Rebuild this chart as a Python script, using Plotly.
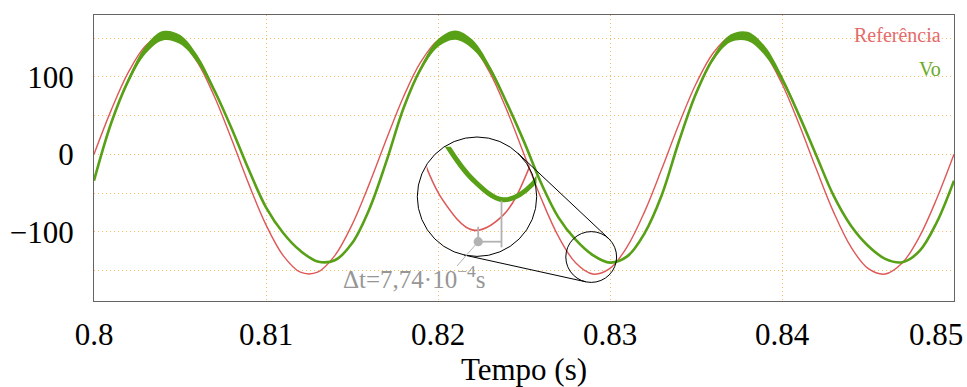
import math
import plotly.graph_objects as go

# ---------------- data ----------------
time_s = [0.800, 0.801, 0.802, 0.803, 0.804, 0.805, 0.806, 0.807, 0.808, 0.809,
          0.810, 0.811, 0.812, 0.813, 0.814, 0.815, 0.816, 0.817, 0.818, 0.819,
          0.820, 0.821, 0.822, 0.823, 0.824, 0.825, 0.826, 0.827, 0.828, 0.829,
          0.830, 0.831, 0.832, 0.833, 0.834, 0.835, 0.836, 0.837, 0.838, 0.839,
          0.840, 0.841, 0.842, 0.843, 0.844, 0.845, 0.846, 0.847, 0.848, 0.849,
          0.850]

referencia = [0.0, 57.1, 106.1, 140.2, 154.7, 147.4, 119.4, 74.7, 19.4, -38.5,
              -91.1, -130.9, -152.3, -152.3, -130.9, -91.1, -38.5, 19.4, 74.7, 119.4,
              147.4, 154.7, 140.2, 106.1, 57.1, 0.0, -57.1, -106.1, -140.2, -154.7,
              -147.4, -119.4, -74.7, -19.4, 38.5, 91.1, 130.9, 152.3, 152.3, 130.9,
              91.1, 38.5, -19.4, -74.7, -119.4, -147.4, -154.7, -140.2, -106.1, -57.1,
              0.0]

vo = [-34.0, 40.4, 95.5, 134.9, 153.2, 148.4, 123.5, 82.4, 33.4, -20.0,
      -68.5, -101.6, -124.7, -138.4, -136.9, -115.0, -71.2, -9.1, 59.9, 110.6,
      143.6, 154.0, 142.2, 111.2, 66.2, 16.4, -37.4, -81.4, -110.3, -130.2,
      -139.9, -131.9, -102.4, -53.2, 16.3, 78.5, 123.8, 149.7, 152.3, 133.8,
      97.5, 50.0, -1.8, -53.4, -91.9, -118.1, -135.0, -139.4, -124.8, -87.8,
      -34.0]

# switching ripple half-width on Vo (thick band at the crests)
vo_ripple = [0, 1, 3, 5, 6, 6, 5, 3, 1, 0,
             0, 0, 0, 0, 0, 0, 0, 0, 1, 3,
             5, 6, 6, 4, 2, 0, 0, 0, 0, 0,
             0, 0, 0, 0, 0, 1, 3, 5, 6, 6,
             4, 2, 0, 0, 0, 0, 0, 0, 0, 0,
             0]

x_tickvals = [0.80, 0.81, 0.82, 0.83, 0.84]
x_ticktext = ["0.8", "0.81", "0.82", "0.83", "0.84"]
y_tickvals = [-150, -100, -50, 0, 50, 100, 150]
y_ticktext = [" ", "\u2212100", " ", "0", " ", "100", " "]

DELTA_T = 7.74e-4        # annotated delay
T_REF_MIN = 0.82917      # time of the reference valley inside the zoom
DT_LABEL = "\u0394t=7,74\u00b710<sup>\u22124</sup>s"

# ---------------- geometry ----------------
W, H = 967, 387
ML, MR, MT, MB = 94, 13, 15, 86
PX0, PX1, PY0, PY1 = ML, W - MR, MT, H - MB
X_RANGE = [0.8, 0.85]
Y_RANGE = [-189.5, 180.0]

RED = "rgb(222,88,88)"
GREEN = "rgb(88,160,22)"
GRID = "rgb(247,190,100)"
GRAY = "rgb(178,178,178)"
FONT = "Liberation Serif"


def pxx(x):
    return (x - PX0) / (PX1 - PX0)


def pxy(y):
    return (PY1 - y) / (PY1 - PY0)


# zoom inset mapping (pixel centre of the big circle <-> data centre)
IC_X, IC_Y, IC_R = 477.0, 196.7, 59.7
SC_X, SC_Y, SC_R = 591.2, 257.0, 25.4
T_C, V_C = 0.82913, -138.4
SX, SY = 30100.0, 2.051   # px per second, px per volt inside inset


def inset_axes(xl, xr, yt, yb):
    dom_x = [pxx(xl), pxx(xr)]
    dom_y = [pxy(yb), pxy(yt)]
    rng_x = [T_C + (xl - IC_X) / SX, T_C + (xr - IC_X) / SX]
    rng_y = [V_C - (yb - IC_Y) / SY, V_C - (yt - IC_Y) / SY]
    return dom_x, dom_y, rng_x, rng_y


def inset_px(t):
    return IC_X + (t - T_C) * SX


vo_hi = [v + r for v, r in zip(vo, vo_ripple)]
vo_lo = [v - r for v, r in zip(vo, vo_ripple)]

fig = go.Figure()

fig.add_trace(go.Scatter(x=time_s, y=referencia, mode="lines",
                         line=dict(color=RED, width=1.4, shape="spline"),
                         hoverinfo="skip", showlegend=False))
fig.add_trace(go.Scatter(x=time_s, y=vo_hi, mode="lines",
                         line=dict(color=GREEN, width=0, shape="spline"),
                         hoverinfo="skip", showlegend=False))
fig.add_trace(go.Scatter(x=time_s, y=vo_lo, mode="lines", fill="tonexty",
                         fillcolor=GREEN,
                         line=dict(color=GREEN, width=0, shape="spline"),
                         hoverinfo="skip", showlegend=False))
fig.add_trace(go.Scatter(x=time_s, y=vo, mode="lines",
                         line=dict(color=GREEN, width=2.6, shape="spline"),
                         hoverinfo="skip", showlegend=False))

rdx, rdy, rrx, rry = inset_axes(426.7, 529.5, 150.0, 257.0)
gdx, gdy, grx, gry = inset_axes(418.0, 536.5, 146.7, 257.0)
fig.add_trace(go.Scatter(x=time_s, y=referencia, mode="lines", xaxis="x3", yaxis="y3",
                         line=dict(color=RED, width=1.6, shape="spline"),
                         hoverinfo="skip", showlegend=False))
fig.add_trace(go.Scatter(x=time_s, y=vo, mode="lines", xaxis="x4", yaxis="y4",
                         line=dict(color=GREEN, width=5, shape="spline"),
                         hoverinfo="skip", showlegend=False))

shapes = []
for cx, cy, r in [(IC_X, IC_Y, IC_R), (SC_X, SC_Y, SC_R)]:
    shapes.append(dict(type="circle", xref="paper", yref="paper",
                       x0=pxx(cx - r), x1=pxx(cx + r), y0=pxy(cy + r), y1=pxy(cy - r),
                       line=dict(color="black", width=1)))
dx, dy = SC_X - IC_X, SC_Y - IC_Y
dist = math.hypot(dx, dy)
ang = math.atan2(dy, dx)
beta = math.acos((IC_R - SC_R) / dist)
for a in (ang - beta, ang + beta):
    nx, ny = math.cos(a), math.sin(a)
    shapes.append(dict(type="line", xref="paper", yref="paper",
                       x0=pxx(IC_X + IC_R * nx), y0=pxy(IC_Y + IC_R * ny),
                       x1=pxx(SC_X + SC_R * nx), y1=pxy(SC_Y + SC_R * ny),
                       line=dict(color="black", width=1)))

xa = inset_px(T_REF_MIN)
xb = inset_px(T_REF_MIN + DELTA_T)
y_dim = 241.7
shapes.append(dict(type="line", xref="paper", yref="paper",
                   x0=pxx(xa), x1=pxx(xa), y0=pxy(226.7), y1=pxy(y_dim),
                   line=dict(color=GRAY, width=1.8)))
shapes.append(dict(type="line", xref="paper", yref="paper",
                   x0=pxx(xa), x1=pxx(xb), y0=pxy(y_dim), y1=pxy(y_dim),
                   line=dict(color=GRAY, width=1.8)))
shapes.append(dict(type="line", xref="paper", yref="paper",
                   x0=pxx(xb), x1=pxx(xb), y0=pxy(200.7), y1=pxy(247.3),
                   line=dict(color=GRAY, width=1.8)))
shapes.append(dict(type="line", xref="paper", yref="paper",
                   x0=pxx(xa), x1=pxx(457), y0=pxy(y_dim), y1=pxy(266),
                   line=dict(color=GRAY, width=1)))
shapes.append(dict(type="circle", xref="paper", yref="paper",
                   x0=pxx(xa - 4.6), x1=pxx(xa + 4.6), y0=pxy(y_dim + 4.6), y1=pxy(y_dim - 4.6),
                   fillcolor=GRAY, line=dict(color=GRAY, width=0)))

annotations = [
    dict(text=DT_LABEL, xref="paper", yref="paper", x=pxx(341), y=pxy(277),
         xanchor="left", yanchor="middle", showarrow=False,
         font=dict(family=FONT, size=25, color="rgb(150,150,150)")),
    dict(text="Refer\u00eancia", xref="paper", yref="paper", x=pxx(943), y=pxy(35),
         xanchor="right", yanchor="middle", showarrow=False,
         font=dict(family=FONT, size=20, color="rgb(228,108,108)")),
    dict(text="Vo", xref="paper", yref="paper", x=pxx(943), y=pxy(69),
         xanchor="right", yanchor="middle", showarrow=False,
         font=dict(family=FONT, size=20, color="rgb(104,170,40)")),
    dict(text="0.85", xref="x", yref="paper", x=0.85, y=pxy(334),
         xanchor="right", yanchor="middle", xshift=11, showarrow=False,
         font=dict(family=FONT, size=31, color="black")),
]

axis_common = dict(showgrid=True, gridcolor=GRID, griddash="1px,3px", gridwidth=1,
                   zeroline=False, showline=True, mirror=True, automargin=False,
                   linecolor="rgb(100,100,100)", linewidth=1.3, ticks="",
                   tickfont=dict(family=FONT, size=31, color="black"))

fig.update_layout(
    width=W, height=H,
    margin=dict(l=ML, r=MR, t=MT, b=MB, pad=0, autoexpand=False),
    paper_bgcolor="white", plot_bgcolor="rgba(0,0,0,0)",
    showlegend=False,
    xaxis=dict(range=X_RANGE, tickvals=x_tickvals, ticktext=x_ticktext,
               ticklabelstandoff=6,
               title=dict(text="Tempo (s)", standoff=30,
                          font=dict(family=FONT, size=31, color="black")),
               **axis_common),
    yaxis=dict(range=Y_RANGE, tickvals=y_tickvals, ticktext=y_ticktext,
               ticklabelstandoff=13, **axis_common),
    xaxis3=dict(domain=rdx, range=rrx, anchor="y3", visible=False),
    yaxis3=dict(domain=rdy, range=rry, anchor="x3", visible=False),
    xaxis4=dict(domain=gdx, range=grx, anchor="y4", visible=False),
    yaxis4=dict(domain=gdy, range=gry, anchor="x4", visible=False),
    shapes=shapes,
    annotations=annotations,
)

fig.write_html("out.html")
